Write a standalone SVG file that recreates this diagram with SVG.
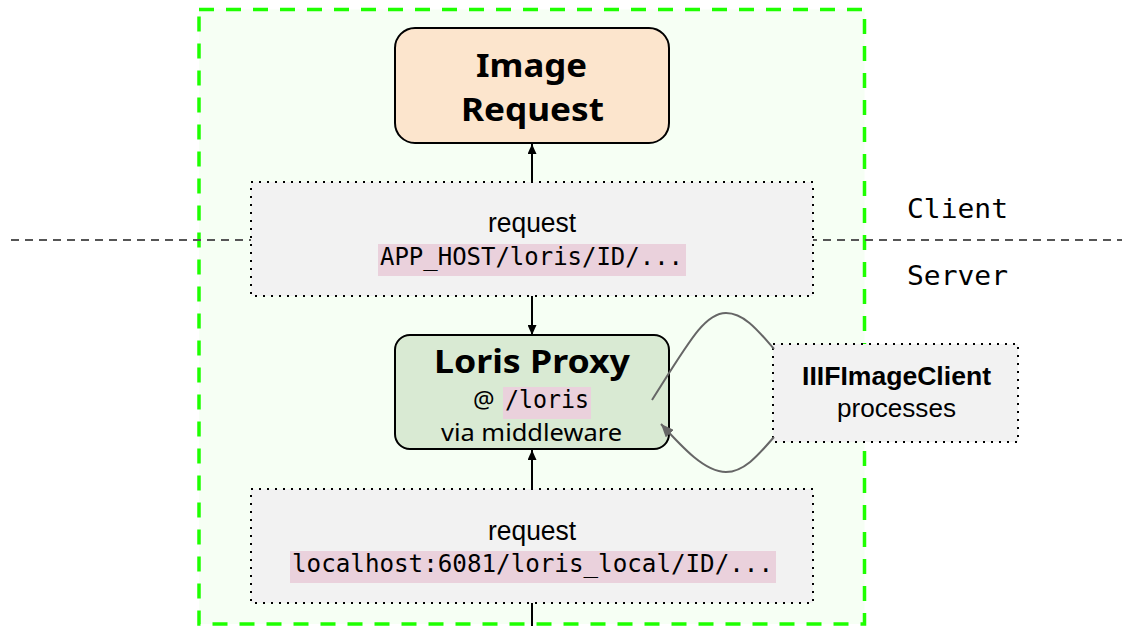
<svg xmlns="http://www.w3.org/2000/svg" width="1122" height="626" viewBox="0 0 1122 626">
<style>
.title{font-family:"Noto Sans","Open Sans",sans-serif;font-weight:700;fill:#000}
.body{font-family:"Noto Sans","Open Sans",sans-serif;fill:#000}
.arial{font-family:"Liberation Sans",Arial,sans-serif;fill:#000}
.mono{font-family:"DejaVu Sans Mono","Liberation Mono",monospace;fill:#000}
.hl{fill:#ead1dc}
.dotbox{fill:#f2f2f2;stroke:#000;stroke-width:2;stroke-dasharray:2 6}
.conn{fill:none;stroke:#000;stroke-width:2}
.loop{fill:none;stroke:#666;stroke-width:2}
</style>
<defs>
<marker id="ah" markerUnits="userSpaceOnUse" viewBox="0 0 10 9" refX="10" refY="4.5" markerWidth="10" markerHeight="9" orient="auto">
<path d="M0,0 L10,4.5 L0,9 z" fill="#000"/>
</marker>
<marker id="ahg" markerUnits="userSpaceOnUse" viewBox="0 0 13 11" refX="13" refY="5.5" markerWidth="13" markerHeight="11" orient="auto">
<path d="M0,0 L13,5.5 L0,11 z" fill="#666"/>
</marker>
</defs>
<rect width="1122" height="626" fill="#fff"/>
<g id="container">
<rect x="199" y="9.5" width="665.5" height="614.5" fill="#f6fff4" stroke="#1eff00" stroke-width="3.5" stroke-dasharray="15 12"/>
</g>
<g id="divider">
<line x1="11" y1="240" x2="1122" y2="240" stroke="#555" stroke-width="2" stroke-dasharray="8 6"/>
<text class="mono" x="907" y="218" font-size="27" textLength="101" lengthAdjust="spacingAndGlyphs">Client</text>
<text class="mono" x="907" y="285" font-size="27" textLength="101" lengthAdjust="spacingAndGlyphs">Server</text>
</g>
<g id="image-request">
<rect x="395" y="28" width="274" height="115" rx="20" fill="#fce5cd" stroke="#000" stroke-width="2"/>
<text class="title" x="476" y="76.5" font-size="33" textLength="111" lengthAdjust="spacingAndGlyphs">Image</text>
<text class="title" x="461" y="121" font-size="33" textLength="143" lengthAdjust="spacingAndGlyphs">Request</text>
</g>
<g id="request-client">
<rect class="dotbox" x="251" y="182" width="562" height="114"/>
<text class="arial" x="488" y="232" font-size="27" textLength="88" lengthAdjust="spacingAndGlyphs">request</text>
<rect class="hl" x="378" y="244" width="308" height="32"/>
<text class="mono" x="380" y="265" font-size="25" textLength="303" lengthAdjust="spacingAndGlyphs">APP_HOST/loris/ID/...</text>
</g>
<g id="loris-proxy">
<rect x="395" y="335" width="274" height="114" rx="15" fill="#d9ead3" stroke="#000" stroke-width="2"/>
<text class="title" x="434" y="373" font-size="33" textLength="196" lengthAdjust="spacingAndGlyphs">Loris Proxy</text>
<text class="body" x="473" y="408" font-size="24">@</text>
<rect class="hl" x="503" y="387" width="88" height="32"/>
<text class="mono" x="505" y="408" font-size="24" textLength="84" lengthAdjust="spacingAndGlyphs">/loris</text>
<text class="body" x="441" y="441" font-size="24" textLength="181" lengthAdjust="spacingAndGlyphs">via middleware</text>
</g>
<g id="iiif-client">
<rect class="dotbox" x="773" y="344" width="245" height="98"/>
<text class="arial" x="802" y="385" font-size="25" font-weight="700" textLength="189" lengthAdjust="spacingAndGlyphs">IIIFImageClient</text>
<text class="arial" x="837" y="417" font-size="26" textLength="119" lengthAdjust="spacingAndGlyphs">processes</text>
</g>
<g id="request-server">
<rect class="dotbox" x="251" y="489" width="562" height="114"/>
<text class="arial" x="488" y="540" font-size="27" textLength="88" lengthAdjust="spacingAndGlyphs">request</text>
<rect class="hl" x="290" y="551" width="486" height="32"/>
<text class="mono" x="292" y="572" font-size="24" textLength="481" lengthAdjust="spacingAndGlyphs">localhost:6081/loris_local/ID/...</text>
</g>
<g id="connectors">
<path class="conn" d="M532,182 L532,144" marker-end="url(#ah)"/>
<path class="conn" d="M532,296 L532,335" marker-end="url(#ah)"/>
<path class="conn" d="M532,489 L532,450" marker-end="url(#ah)"/>
<path class="conn" d="M532,603 L532,626"/>
<path class="loop" d="M652,400 C690,340 705,313 726,313 C745,313 760,333 774,349"/>
<path class="loop" d="M774,437 C760,453 745,472 726,472 C705,472 683,448 661,424" marker-end="url(#ahg)"/>
</g>
</svg>
